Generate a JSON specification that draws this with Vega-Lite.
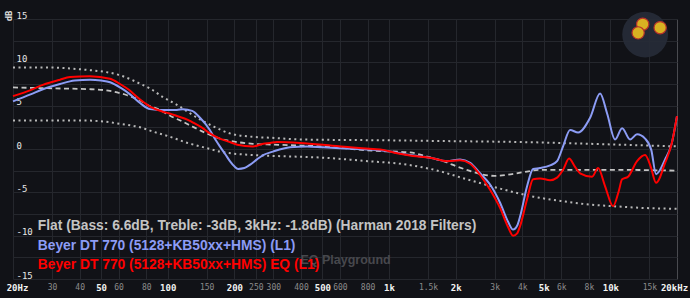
{
  "$schema": "https://vega.github.io/schema/vega-lite/v6.json",
  "width": 664,
  "height": 260,
  "autosize": {"type": "none"},
  "padding": {"left": 13, "top": 19, "right": 13, "bottom": 19},
  "background": "#111217",
  "config": {"view": {"stroke": null}},
  "datasets": {
    "bounds": [
      {"band": "upper", "f": 20, "db": 9.4}, {"band": "upper", "f": 30, "db": 9.4}, {"band": "upper", "f": 40, "db": 9.2},
      {"band": "upper", "f": 44.6, "db": 9.1}, {"band": "upper", "f": 61, "db": 8.5}, {"band": "upper", "f": 77, "db": 7.4},
      {"band": "upper", "f": 83, "db": 7.0}, {"band": "upper", "f": 95, "db": 6.0}, {"band": "upper", "f": 110, "db": 5.1},
      {"band": "upper", "f": 136, "db": 3.6}, {"band": "upper", "f": 161, "db": 2.6}, {"band": "upper", "f": 191, "db": 1.8},
      {"band": "upper", "f": 243, "db": 1.4}, {"band": "upper", "f": 290, "db": 1.3}, {"band": "upper", "f": 400, "db": 1.1},
      {"band": "upper", "f": 1000, "db": 1.0}, {"band": "upper", "f": 2000, "db": 0.9}, {"band": "upper", "f": 4000, "db": 0.8},
      {"band": "upper", "f": 8000, "db": 0.6}, {"band": "upper", "f": 20000, "db": 0.3},
      {"band": "lower", "f": 20, "db": 3.3}, {"band": "lower", "f": 40, "db": 3.3}, {"band": "lower", "f": 50, "db": 3.2},
      {"band": "lower", "f": 61, "db": 2.9}, {"band": "lower", "f": 75, "db": 2.5}, {"band": "lower", "f": 86, "db": 2.0},
      {"band": "lower", "f": 100, "db": 1.5}, {"band": "lower", "f": 123, "db": 0.7}, {"band": "lower", "f": 150, "db": 0.1},
      {"band": "lower", "f": 172, "db": -0.3}, {"band": "lower", "f": 243, "db": -0.7}, {"band": "lower", "f": 300, "db": -0.8},
      {"band": "lower", "f": 500, "db": -1.0}, {"band": "lower", "f": 800, "db": -1.4}, {"band": "lower", "f": 1200, "db": -1.8},
      {"band": "lower", "f": 1600, "db": -2.4}, {"band": "lower", "f": 2250, "db": -3.5}, {"band": "lower", "f": 3000, "db": -4.4},
      {"band": "lower", "f": 4500, "db": -5.5}, {"band": "lower", "f": 6000, "db": -6.0}, {"band": "lower", "f": 8000, "db": -6.4},
      {"band": "lower", "f": 10300, "db": -6.6}, {"band": "lower", "f": 14000, "db": -6.8}, {"band": "lower", "f": 20000, "db": -6.9}
    ],
    "target": [
      {"f": 20, "db": 7.1}, {"f": 30, "db": 7.0}, {"f": 44.6, "db": 6.9}, {"f": 54.9, "db": 6.7}, {"f": 65.5, "db": 6.2},
      {"f": 75, "db": 5.6}, {"f": 82, "db": 5.0}, {"f": 90.6, "db": 4.6}, {"f": 105, "db": 3.7}, {"f": 116, "db": 3.2},
      {"f": 129, "db": 2.6}, {"f": 150, "db": 1.8}, {"f": 172, "db": 1.2}, {"f": 206, "db": 0.8}, {"f": 243, "db": 0.6},
      {"f": 300, "db": 0.5}, {"f": 400, "db": 0.4}, {"f": 503, "db": 0.3}, {"f": 847, "db": -0.2}, {"f": 1244, "db": -0.4},
      {"f": 1500, "db": -0.9}, {"f": 1800, "db": -1.5}, {"f": 2020, "db": -2.0}, {"f": 2300, "db": -2.5}, {"f": 2600, "db": -2.9},
      {"f": 3000, "db": -3.1}, {"f": 3600, "db": -2.9}, {"f": 4200, "db": -2.6}, {"f": 4800, "db": -2.4}, {"f": 6000, "db": -2.4},
      {"f": 10000, "db": -2.4}, {"f": 20000, "db": -2.5}
    ],
    "raw": [
      {"f": 20, "db": 5.5}, {"f": 24, "db": 6.3}, {"f": 27.3, "db": 6.9}, {"f": 32.6, "db": 7.5}, {"f": 38, "db": 7.9},
      {"f": 44.6, "db": 8.0}, {"f": 50, "db": 7.9}, {"f": 54.9, "db": 7.7}, {"f": 60.9, "db": 7.1}, {"f": 67.6, "db": 6.3},
      {"f": 75, "db": 5.3}, {"f": 83.2, "db": 4.6}, {"f": 95.2, "db": 4.5}, {"f": 110, "db": 4.5}, {"f": 117, "db": 4.6},
      {"f": 129, "db": 4.4}, {"f": 140, "db": 3.6}, {"f": 155, "db": 2.2}, {"f": 165, "db": 1.0}, {"f": 172, "db": 0.3},
      {"f": 182, "db": -0.6}, {"f": 191, "db": -1.4}, {"f": 200, "db": -2.0}, {"f": 208, "db": -2.3}, {"f": 222, "db": -2.2},
      {"f": 236, "db": -1.8}, {"f": 253, "db": -1.2}, {"f": 270, "db": -0.7}, {"f": 299, "db": -0.3}, {"f": 357, "db": 0.2},
      {"f": 426, "db": 0.3}, {"f": 503, "db": 0.2}, {"f": 601, "db": 0.1}, {"f": 717, "db": 0.0}, {"f": 847, "db": -0.1},
      {"f": 1010, "db": -0.3}, {"f": 1244, "db": -0.7}, {"f": 1532, "db": -1.0}, {"f": 1829, "db": -1.4}, {"f": 2094, "db": -1.2},
      {"f": 2324, "db": -1.6}, {"f": 2578, "db": -2.8}, {"f": 2861, "db": -4.1}, {"f": 3174, "db": -6.2}, {"f": 3450, "db": -8.4},
      {"f": 3634, "db": -9.3}, {"f": 3800, "db": -8.8}, {"f": 3908, "db": -7.8}, {"f": 4204, "db": -4.3}, {"f": 4476, "db": -2.3},
      {"f": 4813, "db": -2.2}, {"f": 5342, "db": -1.9}, {"f": 5744, "db": -1.4}, {"f": 6114, "db": 0.3}, {"f": 6575, "db": 2.2},
      {"f": 7148, "db": 1.9}, {"f": 8098, "db": 3.6}, {"f": 8986, "db": 6.4}, {"f": 9666, "db": 4.1}, {"f": 10500, "db": 1.1},
      {"f": 11300, "db": 2.4}, {"f": 12280, "db": 1.1}, {"f": 13200, "db": 1.7}, {"f": 14350, "db": 1.2}, {"f": 15300, "db": -0.1},
      {"f": 16090, "db": -2.9}, {"f": 17670, "db": -1.2}, {"f": 18920, "db": 0.6}, {"f": 20000, "db": 3.8}
    ],
    "eq": [
      {"f": 20, "db": 6.1}, {"f": 24, "db": 6.8}, {"f": 27.3, "db": 7.4}, {"f": 32.6, "db": 8.0}, {"f": 36.2, "db": 8.3},
      {"f": 44.6, "db": 8.4}, {"f": 54.9, "db": 8.1}, {"f": 60.9, "db": 7.5}, {"f": 67, "db": 6.8}, {"f": 72.7, "db": 6.0},
      {"f": 75, "db": 5.7}, {"f": 83.2, "db": 4.9}, {"f": 95.2, "db": 4.3}, {"f": 102, "db": 4.1}, {"f": 110, "db": 3.8},
      {"f": 122.6, "db": 3.4}, {"f": 129, "db": 3.1}, {"f": 144, "db": 2.4}, {"f": 155, "db": 1.8}, {"f": 172, "db": 1.2},
      {"f": 191, "db": 0.8}, {"f": 206, "db": 0.5}, {"f": 243, "db": 0.3}, {"f": 270, "db": 0.6}, {"f": 290, "db": 0.7},
      {"f": 312, "db": 0.8}, {"f": 396, "db": 0.7}, {"f": 503, "db": 0.5}, {"f": 667, "db": 0.2}, {"f": 847, "db": 0.0},
      {"f": 940, "db": -0.1}, {"f": 1087, "db": -0.5}, {"f": 1284, "db": -0.8}, {"f": 1532, "db": -1.0}, {"f": 1829, "db": -1.4},
      {"f": 2094, "db": -1.3}, {"f": 2324, "db": -1.7}, {"f": 2578, "db": -3.0}, {"f": 2861, "db": -4.7}, {"f": 3174, "db": -6.8},
      {"f": 3450, "db": -9.0}, {"f": 3634, "db": -10.0}, {"f": 3800, "db": -9.7}, {"f": 3908, "db": -8.9}, {"f": 4204, "db": -5.8},
      {"f": 4476, "db": -3.5}, {"f": 4813, "db": -3.4}, {"f": 5342, "db": -3.6}, {"f": 5744, "db": -3.3}, {"f": 6114, "db": -2.4},
      {"f": 6506, "db": -1.1}, {"f": 6900, "db": -2.0}, {"f": 7298, "db": -2.8}, {"f": 8268, "db": -3.2}, {"f": 8800, "db": -2.2},
      {"f": 9466, "db": -4.3}, {"f": 10290, "db": -6.6}, {"f": 10900, "db": -4.9}, {"f": 11300, "db": -3.5}, {"f": 12020, "db": -3.2},
      {"f": 13200, "db": -1.4}, {"f": 14350, "db": -0.7}, {"f": 15200, "db": -2.0}, {"f": 16090, "db": -3.9}, {"f": 17670, "db": -1.6},
      {"f": 18920, "db": 0.6}, {"f": 20000, "db": 3.8}
    ],
    "watermark": [{"t": "EQ Playground", "f": 636, "db": -12.8}],
    "logo": [{"f": 14360, "db": 13.2}],
    "logofigure": [{"f": 14000, "db": 14.4}, {"f": 16780, "db": 14.0}, {"f": 13350, "db": 13.4}]
  },
  "encoding": {
    "x": {
      "field": "f", "type": "quantitative",
      "scale": {"type": "log", "domain": [20, 20000], "nice": false},
      "axis": {
        "title": null, "domain": false, "ticks": false, "tickSize": 0,
        "values": [20, 30, 40, 50, 60, 80, 100, 150, 200, 250, 300, 400, 500, 600, 800, 1000, 1500, 2000, 3000, 4000, 5000, 6000, 8000, 10000, 15000, 20000],
        "labelExpr": "datum.value == 20 ? '20Hz' : datum.value == 20000 ? '20kHz' : datum.value >= 1000 ? format(datum.value / 1000, '') + 'k' : '' + datum.value",
        "labelFont": "DejaVu Sans Mono",
        "labelFontSize": {"condition": {"test": "indexof([20, 50, 100, 200, 500, 1000, 2000, 5000, 10000, 20000], datum.value) >= 0", "value": 9}, "value": 8},
        "labelFontWeight": {"condition": {"test": "indexof([20, 50, 100, 200, 500, 1000, 2000, 5000, 10000, 20000], datum.value) >= 0", "value": "bold"}, "value": "normal"},
        "labelColor": {"condition": {"test": "indexof([20, 50, 100, 200, 500, 1000, 2000, 5000, 10000, 20000], datum.value) >= 0", "value": "#f2f2f2"}, "value": "#8c8c8c"},
        "labelOffset": {"condition": [{"test": "datum.value == 20", "value": 4}, {"test": "datum.value == 20000", "value": -3}], "value": 0},
        "labelPadding": 8, "labelBaseline": "middle",
        "labelOverlap": false, "labelBound": false, "labelFlush": false,
        "grid": true,
        "gridColor": {"condition": {"test": "datum.value == 20000", "value": "#4a4b50"}, "value": "#25272d"},
        "gridWidth": 1
      }
    },
    "y": {
      "field": "db", "type": "quantitative",
      "scale": {"domain": [-15, 15], "nice": false, "zero": false},
      "axis": {
        "values": [-15, -12.5, -10, -7.5, -5, -2.5, 0, 2.5, 5, 7.5, 10, 12.5, 15],
        "labelExpr": "datum.value % 5 == 0 ? '' + datum.value : ''",
        "domain": false, "ticks": false, "tickSize": 0,
        "labelAlign": "left", "labelPadding": -3, "labelBaseline": "alphabetic", "labelOffset": -1,
        "labelFont": "DejaVu Sans Mono", "labelFontSize": 9, "labelColor": "#e8e8e8",
        "labelOverlap": false, "labelBound": false,
        "grid": true, "gridColor": "#25272d", "gridWidth": 1,
        "title": "dB", "titleFont": "DejaVu Sans Mono", "titleFontSize": 9, "titleFontWeight": "bold",
        "titleColor": "#e0e0e0", "titleAngle": -90, "titleX": -5, "titleY": -9,
        "titleAlign": "right", "titleBaseline": "middle"
      }
    }
  },
  "layer": [
    {
      "data": {"name": "logo"},
      "mark": {"type": "circle", "color": "#262b37", "opacity": 0.95, "size": 2100}
    },
    {
      "data": {"name": "logofigure"},
      "mark": {"type": "circle", "color": "#d8b222", "stroke": "#b8322a", "strokeWidth": 1.2, "opacity": 1, "size": 150}
    },
    {
      "data": {"name": "watermark"},
      "mark": {"type": "text", "font": "Liberation Sans", "fontWeight": "bold", "fontSize": 12.5, "color": "#47484d", "align": "center", "baseline": "middle"},
      "encoding": {"text": {"field": "t"}}
    },
    {
      "data": {"name": "bounds"},
      "mark": {"type": "line", "interpolate": "monotone", "strokeDash": [2, 3.5], "strokeWidth": 2, "color": "#b8b8b8"},
      "encoding": {"detail": {"field": "band"}}
    },
    {
      "data": {"name": "target"},
      "mark": {"type": "line", "interpolate": "monotone", "strokeDash": [5, 3.5], "strokeWidth": 1.8},
      "encoding": {
        "color": {
          "datum": "Flat (Bass: 6.6dB, Treble: -3dB, 3kHz: -1.8dB) (Harman 2018 Filters)",
          "type": "nominal",
          "scale": {
            "domain": ["Flat (Bass: 6.6dB, Treble: -3dB, 3kHz: -1.8dB) (Harman 2018 Filters)", "Beyer DT 770 (5128+KB50xx+HMS) (L1)", "Beyer DT 770 (5128+KB50xx+HMS) EQ (L1)"],
            "range": ["#c4c4c4", "#8c9cf5", "#ff0000"]
          },
          "legend": {
            "orient": "none", "legendX": 11, "legendY": 200, "title": null,
            "symbolSize": 0, "symbolStrokeWidth": 0, "symbolOpacity": 0, "labelOffset": 0,
            "labelFont": "Liberation Sans", "labelFontSize": 13.8, "labelFontWeight": "bold",
            "rowPadding": 4.7, "padding": 0, "labelLimit": 700,
            "encode": {"labels": {"update": {"fill": {"scale": "color", "field": "value"}}}}
          }
        }
      }
    },
    {
      "data": {"name": "raw"},
      "mark": {"type": "line", "interpolate": "monotone", "strokeWidth": 2},
      "encoding": {"color": {"datum": "Beyer DT 770 (5128+KB50xx+HMS) (L1)", "type": "nominal"}}
    },
    {
      "data": {"name": "eq"},
      "mark": {"type": "line", "interpolate": "monotone", "strokeWidth": 2},
      "encoding": {"color": {"datum": "Beyer DT 770 (5128+KB50xx+HMS) EQ (L1)", "type": "nominal"}}
    }
  ]
}
